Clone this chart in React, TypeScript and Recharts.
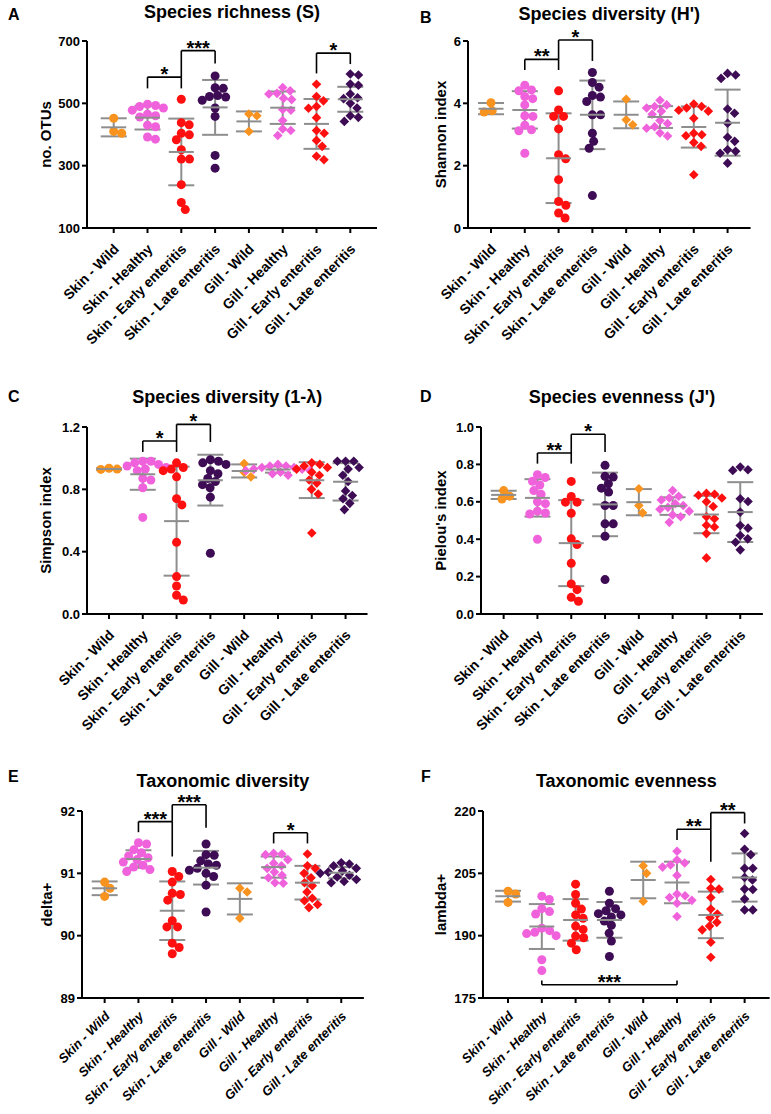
import React from 'react';
import { ScatterChart, Scatter, XAxis, YAxis, ReferenceLine, ErrorBar } from 'recharts';

const FONT = '"Liberation Sans", Arial, Helvetica, sans-serif';

const groups = [
  'Skin - Wild',
  'Skin - Healthy',
  'Skin - Early enteritis',
  'Skin - Late enteritis',
  'Gill - Wild',
  'Gill - Healthy',
  'Gill - Early enteritis',
  'Gill - Late enteritis',
];
const groupColors = ['#F7931E', '#F062DC', '#FF1010', '#3D0C55', '#F7931E', '#F062DC', '#FF1010', '#3D0C55'];
const groupShapes = ['circle', 'circle', 'circle', 'circle', 'diamond', 'diamond', 'diamond', 'diamond'];

// A - species richness
const richnessValues = [
  [452, 404, 410],
  [497, 493, 490, 485, 478, 465, 460, 456, 430, 425, 392, 385],
  [513, 431, 438, 399, 404, 383, 351, 321, 321, 239, 182, 159],
  [588, 550, 548, 525, 522, 520, 510, 485, 458, 333, 292],
  [466, 460, 410],
  [551, 540, 532, 530, 516, 512, 480, 478, 445, 418, 413, 397],
  [561, 508, 522, 490, 484, 454, 404, 413, 381, 362, 330, 319],
  [594, 591, 562, 558, 530, 518, 515, 500, 485, 460, 455, 442],
];
const richnessMeans = [423, 454, 344, 487, 442, 486, 434, 513];
const richnessSds = [29, 38, 107, 88, 32, 52, 80, 40];
const richnessTicks = [100, 300, 500, 700];
const richnessBrackets = [
  { from: 2, to: 3, y: 584, leftEnd: 548, rightEnd: 548, label: '*' },
  { from: 3, to: 4, y: 669, leftEnd: 584, rightEnd: 628, label: '***' },
  { from: 7, to: 8, y: 661, leftEnd: 596, rightEnd: 626, label: '*' },
];

// B - Shannon
const shannonValues = [
  [4.02, 3.72, 3.76],
  [4.58, 4.43, 4.4, 4.22, 4.15, 3.95, 3.6, 3.58, 3.3, 3.15, 3.12, 2.4],
  [4.4, 3.79, 3.58, 3.58, 3.18, 2.35, 2.22, 1.55, 0.85, 0.73, 0.48, 0.32],
  [4.99, 4.67, 4.52, 4.25, 4.2, 4.06, 3.63, 3.63, 3.04, 2.78, 2.56, 1.04],
  [4.13, 3.31, 3.47],
  [4.1, 3.95, 3.9, 3.85, 3.75, 3.65, 3.45, 3.35, 3.25, 3.2, 3.05, 2.95],
  [3.98, 3.9, 3.85, 3.78, 3.75, 3.52, 3.04, 2.99, 2.96, 2.74, 2.62, 1.71],
  [4.91, 4.8, 4.96, 3.82, 3.68, 3.36, 2.91, 2.78, 2.46, 2.4, 2.51, 2.08],
];
const shannonMeans = [3.83, 3.79, 2.24, 3.63, 3.63, 3.56, 3.24, 3.38];
const shannonSds = [0.18, 0.6, 1.44, 1.1, 0.43, 0.35, 0.66, 1.06];
const shannonTicks = [0, 2, 4, 6];
const shannonBrackets = [
  { from: 2, to: 3, y: 5.41, leftEnd: 5.07, rightEnd: 5.07, label: '**' },
  { from: 3, to: 4, y: 6.03, leftEnd: 5.41, rightEnd: 5.36, label: '*' },
];

// C - Simpson
const simpsonValues = [
  [0.935, 0.93, 0.928],
  [0.98, 0.98, 0.97, 0.96, 0.95, 0.94, 0.93, 0.92, 0.87, 0.86, 0.81, 0.62],
  [0.97, 0.94, 0.93, 0.92, 0.88, 0.74, 0.7, 0.46, 0.24, 0.18, 0.12, 0.09],
  [0.99, 0.98, 0.97, 0.96, 0.92, 0.9, 0.87, 0.85, 0.83, 0.81, 0.75, 0.39],
  [0.965, 0.88, 0.91],
  [0.96, 0.95, 0.95, 0.94, 0.94, 0.93, 0.93, 0.92, 0.92, 0.91, 0.9, 0.89],
  [0.97, 0.96, 0.95, 0.94, 0.93, 0.91, 0.89, 0.86, 0.84, 0.8, 0.77, 0.52],
  [0.98, 0.98, 0.98, 0.94, 0.93, 0.89, 0.85, 0.79, 0.76, 0.74, 0.71, 0.67],
];
const simpsonMeans = [0.93, 0.897, 0.596, 0.859, 0.918, 0.927, 0.859, 0.848];
const simpsonSds = [0.005, 0.1, 0.35, 0.163, 0.042, 0.02, 0.115, 0.12];
const simpsonTicks = [0, 0.4, 0.8, 1.2];
const simpsonBrackets = [
  { from: 2, to: 3, y: 1.11, leftEnd: 1.04, rightEnd: 1.04, label: '*' },
  { from: 3, to: 4, y: 1.217, leftEnd: 1.11, rightEnd: 1.104, label: '*' },
];

// D - Pielou
const pielouValues = [
  [0.66, 0.615, 0.63],
  [0.745, 0.73, 0.71, 0.69, 0.66, 0.64, 0.6, 0.59, 0.55, 0.54, 0.535, 0.4],
  [0.709, 0.629, 0.598, 0.598, 0.539, 0.402, 0.371, 0.271, 0.161, 0.13, 0.089, 0.068],
  [0.795, 0.736, 0.732, 0.696, 0.673, 0.652, 0.58, 0.58, 0.482, 0.482, 0.416, 0.184],
  [0.67, 0.541, 0.58],
  [0.66, 0.63, 0.62, 0.61, 0.59, 0.58, 0.57, 0.56, 0.55, 0.53, 0.52, 0.49],
  [0.645, 0.64, 0.635, 0.62, 0.6, 0.575, 0.52, 0.51, 0.475, 0.465, 0.43, 0.3],
  [0.786, 0.768, 0.771, 0.616, 0.602, 0.545, 0.473, 0.459, 0.42, 0.402, 0.384, 0.343],
];
const pielouMeans = [0.637, 0.621, 0.379, 0.586, 0.598, 0.577, 0.532, 0.545];
const pielouSds = [0.022, 0.1, 0.23, 0.17, 0.07, 0.047, 0.1, 0.16];
const pielouTicks = [0, 0.2, 0.4, 0.6, 0.8, 1.0];
const pielouBrackets = [
  { from: 2, to: 3, y: 0.861, leftEnd: 0.804, rightEnd: 0.804, label: '**' },
  { from: 3, to: 4, y: 0.961, leftEnd: 0.861, rightEnd: 0.866, label: '*' },
];

// E - taxonomic diversity
const deltaValues = [
  [90.86, 90.76, 90.63],
  [91.49, 91.47, 91.38, 91.33, 91.28, 91.25, 91.22, 91.18, 91.13, 91.1, 91.06, 91.03],
  [91.03, 90.95, 90.86, 90.68, 90.66, 90.57, 90.24, 90.14, 90.14, 89.88, 89.81, 89.71],
  [91.47, 91.3, 91.29, 91.2, 91.15, 91.13, 91.08, 91.05, 91.0, 90.95, 90.81, 90.38],
  [90.76, 90.7, 90.28],
  [91.32, 91.31, 91.3, 91.22, 91.16, 91.12, 91.08, 91.02, 90.97, 90.93, 90.85, 90.84],
  [91.31, 91.12, 91.08, 91.0, 90.93, 90.85, 90.8, 90.7, 90.6, 90.56, 90.5, 90.45],
  [91.17, 91.15, 91.12, 91.08, 91.04, 91.02, 91.0, 90.97, 90.94, 90.9, 90.87, 90.85],
];
const deltaMeans = [90.76, 91.23, 90.4, 91.09, 90.59, 91.1, 90.85, 91.01];
const deltaSds = [0.11, 0.14, 0.47, 0.27, 0.25, 0.17, 0.27, 0.09];
const deltaTicks = [89, 90, 91, 92];
const deltaBrackets = [
  { from: 2, to: 3, y: 91.83, leftEnd: 91.66, rightEnd: 91.27, label: '***' },
  { from: 3, to: 4, y: 92.1, leftEnd: 91.83, rightEnd: 91.73, label: '***' },
  { from: 6, to: 7, y: 91.65, leftEnd: 91.48, rightEnd: 91.48, label: '*' },
];

// F - taxonomic evenness
const lambdaValues = [
  [200.7, 200.0, 198.0],
  [199.5, 198.7, 196.5, 195.8, 195.2, 191.8, 191.2, 190.8, 190.5, 190.0, 184.2, 181.6],
  [202.4, 199.9, 197.8, 196.4, 195.0, 194.2, 192.3, 191.5, 189.9, 189.5, 188.2, 186.6],
  [200.7, 197.8, 196.5, 196.0, 195.3, 195.0, 194.5, 193.5, 192.5, 190.6, 188.7, 185.0],
  [206.8, 205.0, 198.3],
  [210.3, 208.2, 207.5, 207.0, 206.5, 204.5, 200.0, 199.6, 199.2, 198.5, 197.8, 194.6],
  [203.5, 201.4, 201.2, 199.2, 196.4, 195.2, 194.3, 193.2, 192.3, 191.4, 188.4, 184.8],
  [214.6, 210.8, 209.5, 206.2, 206.2, 204.0, 203.4, 201.2, 201.1, 198.8, 196.2, 196.2],
];
const lambdaMeans = [199.5, 192.2, 193.8, 193.8, 203.4, 202.8, 195.0, 204.0];
const lambdaSds = [1.3, 5.4, 5.0, 4.3, 4.4, 5.0, 5.6, 5.8];
const lambdaTicks = [175, 190, 205, 220];
const lambdaBrackets = [
  { from: 6, to: 7, y: 215.6, leftEnd: 213.0, rightEnd: 207.8, label: '**' },
  { from: 7, to: 8, y: 219.6, leftEnd: 215.6, rightEnd: 217.0, label: '**' },
  { from: 2, to: 6, y: 178.2, leftEnd: 179.2, rightEnd: 179.2, label: '***' },
];

const UNIT = 33.8; // px per category
const PLOT_TOP = 41;
const PLOT_H = 187;
const YW = 40;
const XH = 100;
const PANEL_W = 385;
const GREY = '#8E8E8E';

type Bracket = { from: number; to: number; y: number; leftEnd: number; rightEnd: number; label: string };
type PanelDef = {
  letter: string;
  title: string;
  yLabel: string;
  values: number[][];
  means: number[];
  sds: number[];
  ticks: number[];
  brackets: Bracket[];
  decimals: number;
  ox: number;
  oy: number;
  h: number;
  axisX: number;
  pad: number;
  italic: boolean;
  letterPos: [number, number];
  titleY: number;
  yLabelX: number;
};

const panels: PanelDef[] = [
  { letter: 'A', title: 'Species richness (S)', yLabel: 'no. OTUs', values: richnessValues, means: richnessMeans, sds: richnessSds, ticks: richnessTicks, brackets: richnessBrackets, decimals: 0, ox: 0, oy: 0, h: 380, axisX: 87, pad: 0.79, italic: false, letterPos: [8, 20], titleY: 18, yLabelX: 46 },
  { letter: 'B', title: "Species diversity (H')", yLabel: 'Shannon index', values: shannonValues, means: shannonMeans, sds: shannonSds, ticks: shannonTicks, brackets: shannonBrackets, decimals: 0, ox: 385, oy: 0, h: 380, axisX: 83, pad: 0.68, italic: false, letterPos: [35, 23], titleY: 20, yLabelX: 56 },
  { letter: 'C', title: 'Species diversity (1-\u03bb)', yLabel: 'Simpson index', values: simpsonValues, means: simpsonMeans, sds: simpsonSds, ticks: simpsonTicks, brackets: simpsonBrackets, decimals: 1, ox: 0, oy: 386, h: 380, axisX: 87, pad: 0.65, italic: false, letterPos: [8, 16], titleY: 17, yLabelX: 46 },
  { letter: 'D', title: "Species evenness (J')", yLabel: "Pielou's index", values: pielouValues, means: pielouMeans, sds: pielouSds, ticks: pielouTicks, brackets: pielouBrackets, decimals: 1, ox: 385, oy: 386, h: 380, axisX: 96, pad: 0.67, italic: false, letterPos: [35, 16], titleY: 17, yLabelX: 56 },
  { letter: 'E', title: 'Taxonomic diversity', yLabel: 'delta+', values: deltaValues, means: deltaMeans, sds: deltaSds, ticks: deltaTicks, brackets: deltaBrackets, decimals: 0, ox: 0, oy: 770, h: 344, axisX: 82, pad: 0.67, italic: true, letterPos: [8, 12], titleY: 17, yLabelX: 47 },
  { letter: 'F', title: 'Taxonomic evenness', yLabel: 'lambda+', values: lambdaValues, means: lambdaMeans, sds: lambdaSds, ticks: lambdaTicks, brackets: lambdaBrackets, decimals: 0, ox: 385, oy: 770, h: 344, axisX: 98, pad: 0.74, italic: true, letterPos: [36, 12], titleY: 17, yLabelX: 56 },
];

// simple beeswarm so dots with close values sit side by side
function swarmOffsets(vals: number[], pxPerVal: number): number[] {
  const D = 8.2;
  const order = vals.map((_, i) => i).sort((a, b) => vals[b] - vals[a]);
  const placed: { x: number; y: number }[] = [];
  const out = new Array(vals.length).fill(0);
  for (const i of order) {
    const y = vals[i] * pxPerVal;
    const cands = [0];
    for (const p of placed) {
      const dy = Math.abs(p.y - y);
      if (dy < D) {
        const w = Math.sqrt(D * D - dy * dy);
        cands.push(p.x + w, p.x - w);
      }
    }
    cands.sort((a, b) => Math.abs(a) - Math.abs(b));
    let chosen = 0;
    for (const c of cands) {
      if (placed.every((p) => (p.x - c) ** 2 + (p.y - y) ** 2 >= D * D - 0.01)) {
        chosen = c;
        break;
      }
    }
    placed.push({ x: chosen, y });
    out[i] = chosen / UNIT;
  }
  return out;
}

const makeShape = (g: number) => (props: any) => {
  const { cx, cy } = props;
  const fill = groupColors[g];
  if (groupShapes[g] === 'circle') return <circle cx={cx} cy={cy} r={4.5} fill={fill} />;
  const r = 4.8;
  return <polygon points={`${cx},${cy - r} ${cx + r},${cy} ${cx},${cy + r} ${cx - r},${cy}`} fill={fill} />;
};

// horizontal mean line
const MeanMark = (props: any) => {
  const { cx, cy } = props;
  return <line x1={cx - 12.5} x2={cx + 12.5} y1={cy} y2={cy} stroke={GREY} strokeWidth={2} />;
};

const XTick = (props: any) => {
  const { x, y, payload, italic } = props;
  const ax = x + 6;
  const ay = y + (italic ? 12 : 15);
  return (
    <text
      x={ax}
      y={ay}
      transform={`rotate(-45 ${ax} ${ay})`}
      textAnchor="end"
      fontSize={italic ? 13 : 14}
      fontWeight="bold"
      fontStyle={italic ? 'italic' : 'normal'}
      fontFamily={FONT}
      fill="#000"
    >
      {groups[Math.round(payload.value) - 1]}
    </text>
  );
};

function Panel({ p }: { p: PanelDef }) {
  const lo = p.ticks[0];
  const hi = p.ticks[p.ticks.length - 1];
  const plotW = (7 + 2 * p.pad) * UNIT;
  const right = PANEL_W - p.axisX - plotW;
  const pxPerVal = PLOT_H / (hi - lo);
  const series = p.values.map((vals, g) => {
    const offs = swarmOffsets(vals, pxPerVal);
    return vals.map((v, i) => ({ x: g + 1 + offs[i], y: v }));
  });
  const meanData = p.means.map((m, g) => ({ x: g + 1, y: m, sd: p.sds[g] }));

  return (
    <div style={{ position: 'absolute', left: p.ox, top: p.oy }}>
      <ScatterChart
        width={PANEL_W}
        height={p.h}
        margin={{ top: PLOT_TOP, right, bottom: p.h - PLOT_TOP - PLOT_H - XH, left: p.axisX - YW }}
        style={{ fontFamily: FONT }}
      >
        <XAxis
          type="number"
          dataKey="x"
          domain={[1 - p.pad, 8 + p.pad]}
          ticks={[1, 2, 3, 4, 5, 6, 7, 8]}
          allowDataOverflow
          interval={0}
          height={XH}
          tickSize={5}
          axisLine={{ stroke: '#000', strokeWidth: 2 }}
          tickLine={{ stroke: '#000', strokeWidth: 2 }}
          tick={(tp: any) => <XTick {...tp} italic={p.italic} />}
        />
        <YAxis
          type="number"
          dataKey="y"
          domain={[lo, hi]}
          ticks={p.ticks}
          allowDataOverflow
          width={YW}
          tickSize={5}
          axisLine={{ stroke: '#000', strokeWidth: 2 }}
          tickLine={{ stroke: '#000', strokeWidth: 2 }}
          tick={{ fontSize: 13, fontWeight: 'bold', fill: '#000', fontFamily: FONT }}
          tickFormatter={(v: number) => v.toFixed(p.decimals)}
        />
        {p.brackets.map((b, i) => [
          <ReferenceLine
            key={`h${i}`}
            ifOverflow="visible"
            stroke="#000"
            strokeWidth={1.6}
            segment={[{ x: b.from, y: b.y }, { x: b.to, y: b.y }]}
            label={{ value: b.label, position: 'top', offset: -4, fill: '#000', fontSize: 20, fontWeight: 'bold', fontFamily: FONT }}
          />,
          <ReferenceLine key={`l${i}`} ifOverflow="visible" stroke="#000" strokeWidth={1.6} segment={[{ x: b.from, y: b.y }, { x: b.from, y: b.leftEnd }]} />,
          <ReferenceLine key={`r${i}`} ifOverflow="visible" stroke="#000" strokeWidth={1.6} segment={[{ x: b.to, y: b.y }, { x: b.to, y: b.rightEnd }]} />,
        ])}
        {series.map((d, g) => (
          <Scatter key={g} data={d} isAnimationActive={false} shape={makeShape(g)} />
        ))}
        <Scatter data={meanData} isAnimationActive={false} shape={<MeanMark />}>
          <ErrorBar dataKey="sd" direction="y" width={13} stroke={GREY} strokeWidth={2} isAnimationActive={false} />
        </Scatter>
      </ScatterChart>
    </div>
  );
}

export default function App() {
  return (
    <div style={{ position: 'absolute', left: 0, top: 0, width: 771, height: 1114, background: '#fff', overflow: 'hidden', fontFamily: FONT }}>
      {panels.map((p) => (
        <Panel key={p.letter} p={p} />
      ))}
      <svg width={771} height={1114} style={{ position: 'absolute', left: 0, top: 0, pointerEvents: 'none' }}>
        {panels.map((p) => {
          const plotW = (7 + 2 * p.pad) * UNIT;
          const cx = p.ox + p.axisX + plotW / 2;
          const ly = p.oy + PLOT_TOP + PLOT_H / 2;
          const lx = p.ox + p.yLabelX + 5;
          return (
            <g key={p.letter} fontFamily={FONT} fontWeight="bold" fill="#000">
              <text x={p.ox + p.letterPos[0]} y={p.oy + p.letterPos[1]} fontSize={16}>
                {p.letter}
              </text>
              <text x={cx} y={p.oy + p.titleY} fontSize={18} textAnchor="middle">
                {p.title}
              </text>
              <text x={lx} y={ly} fontSize={15} textAnchor="middle" transform={`rotate(-90 ${lx} ${ly})`}>
                {p.yLabel}
              </text>
            </g>
          );
        })}
      </svg>
    </div>
  );
}
